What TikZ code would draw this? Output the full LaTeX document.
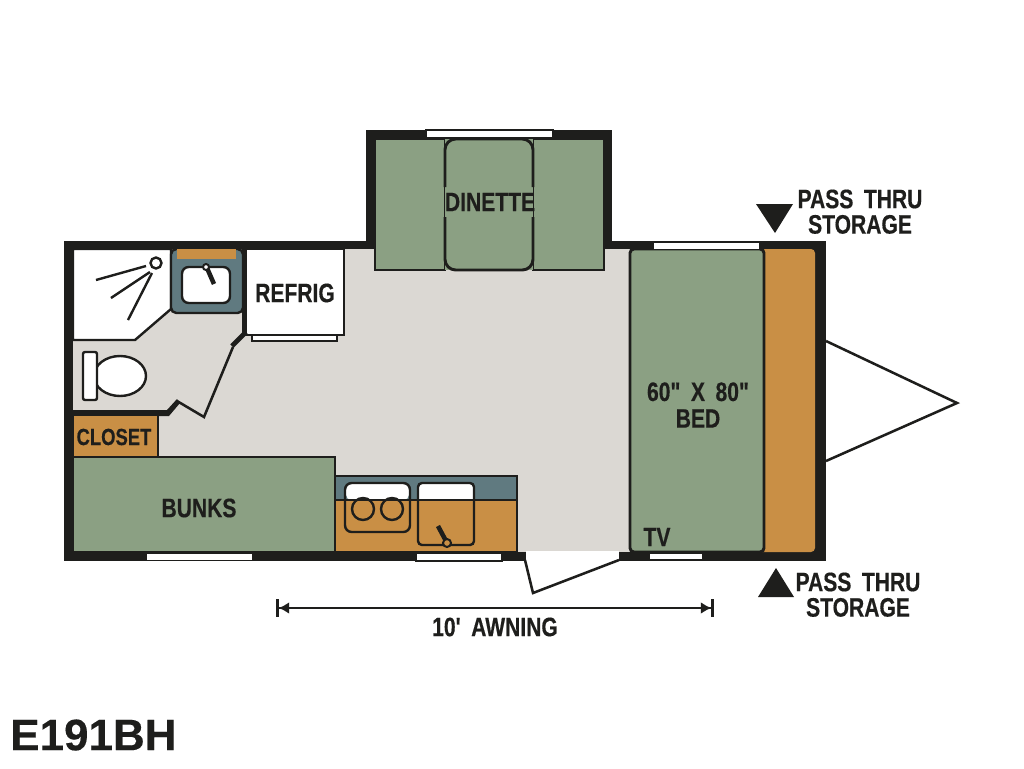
\documentclass[tikz,border=0pt]{standalone}
\usepackage{fontspec}
\newfontfamily\planfont[FakeStretch=0.79,WordSpace=1.8,BoldFeatures={FakeBold=0.4}]{Liberation Sans}
\newfontfamily\titlefont[BoldFeatures={FakeBold=0.3}]{Liberation Sans}
\usetikzlibrary{positioning}
\usetikzlibrary{arrows.meta}
\definecolor{myDark}{RGB}{30,30,28}
\definecolor{myFloor}{RGB}{219,216,211}
\definecolor{myGreen}{RGB}{139,160,131}
\definecolor{myOrange}{RGB}{201,143,69}
\definecolor{mySlate}{RGB}{96,122,128}

\begin{document}
\begin{tikzpicture}[x=0.75pt,y=-0.75pt,line join=miter,
  plan text/.style={inner sep=0pt,text=myDark,font=\planfont\bfseries\fontsize{20}{22}\selectfont},
  small text/.style={inner sep=0pt,text=myDark,font=\planfont\bfseries\fontsize{17.5}{20}\selectfont},
  wall/.style={fill=myDark},
  cushion/.style={fill=myGreen,draw=myDark,line width=2.2pt},
  cabinet/.style={fill=myOrange,draw=myDark,line width=1.8pt},
  fixture/.style={fill=white,draw=myDark,line width=1.8pt},
  thin line/.style={draw=myDark,line width=1.8pt},
  handle/.style={draw=myDark,line width=3.4pt},
  window/.style={fill=white,draw=myDark,line width=1.2pt},
  door line/.style={draw=myDark,line width=1.9pt}]

\useasboundingbox (0,0) rectangle (1024,768);
\fill[white] (0,0) rectangle (1024,768);

% The outer walls and the floor
\fill[wall] (64,241) rectangle (826,561);
\fill[wall] (366,130) rectangle (612,250);
\fill[myFloor] (73,249) rectangle (790,552);
\fill[white] (526,551) rectangle (619,562);

% The dinette
\path[cushion] (375,139) rectangle (445,270);
\path[cushion] (533,139) rectangle (604,270);
\fill[myGreen] (445,139) rectangle (533,270);
\draw[thin line,line width=2.2pt,rounded corners=8pt] (445,187) -- (445,139) -- (533,139) -- (533,187);
\draw[thin line,line width=2.2pt,rounded corners=8pt] (445,217) -- (445,270) -- (533,270) -- (533,217);
\fill[wall] (366,130) rectangle (612,139);
\path[window] (426,130) rectangle (553,138);

% The bed and the storage
\fill[myOrange,rounded corners=3pt] (750,249) rectangle (815,552);
\path[cushion,rounded corners=3pt] (630,249) rectangle (764,552);
\path[window] (653,242) rectangle (760,249.5);
\path[window] (649,553) rectangle (703,560);

% The bath
\path[fixture] (73,249) -- (171,249) -- (171,309) -- (135,340) -- (73,340) -- cycle;
\path[fill=mySlate,draw=myDark,line width=1.8pt,rounded corners=4pt] (171,249) -- (171,313) -- (243,313) -- (243,249) -- cycle;
\fill[wall] (64,241) rectangle (366,249);
\fill[myOrange] (177,249) rectangle (236,259);
\path[fixture,rounded corners=5pt] (182,267) rectangle (230,303);
\draw[handle] (207,268) -- (214,284);
\path[fixture,line width=1.5pt] (206,267) circle (3);
\path[fixture] (156,263) circle (5.5);
\draw[thin line] (146,266) -- (96,280);
\draw[thin line] (150,272) -- (111,298);
\draw[thin line] (152,273) -- (128,320);
\path[fixture] (120,376) ellipse (26 and 20);
\path[fixture,rounded corners=1.5pt] (83,352) rectangle (97,400);

% The refrigerator and the bath door
\fill[wall] (242,249) rectangle (247,333);
\path[fixture,line width=1.2pt] (252,334) rectangle (337,341);
\path[fixture,line width=2pt] (246,249) -- (344,249) -- (344,335) -- (246,335) -- cycle;
\fill[wall] (64,241) rectangle (366,249);
\draw[draw=myDark,line width=3.6pt] (246,332) -- (232,346);
\draw[door line] (233,347) -- (204,417) -- (177,401);
\fill[wall] (73,410) -- (167,410) -- (177,399) -- (180,403) -- (169,416) -- (73,416) -- cycle;

% The closet and the bunks
\path[cabinet] (73,415) rectangle (158,457);
\path[cushion] (73,457) rectangle (335,552);
\fill[wall] (64,415) rectangle (73,556);
\path[window] (146,553) rectangle (253,560.5);

% The galley
\path[fill=mySlate,draw=myDark,line width=2pt] (335,476) rectangle (517,552);
\fill[myOrange] (336,500) rectangle (516,551);
\path[fill=white,rounded corners=4pt] (346,484) -- (346,500) -- (409,500) -- (409,484) -- cycle;
\fill[white] (419,484) rectangle (473,500);
\draw[thin line] (335,500) -- (517,500);
\draw[thin line,rounded corners=5pt] (345,483) rectangle (410,532);
\draw[thin line,rounded corners=3pt] (418,483) rectangle (474,545);
\draw[thin line] (363,509) circle (11);
\draw[thin line] (392,509) circle (11);
\draw[handle] (438,526) -- (446,541);
\path[cabinet,line width=1.5pt] (447,543) circle (4);
\path[window] (416,553) rectangle (502,561);

% The entry door and the hitch
\draw[door line] (525,560) -- (533,593) -- (619,560);
\draw[door line] (826,341) -- (957,403) -- (826,461);

% The storage marks
\fill[wall] (756,204) -- (793,204) -- (775,233) -- cycle;
\fill[wall] (758,597) -- (794,597) -- (776,568) -- cycle;

% The awning
\coordinate (awningL) at (276,608);
\coordinate (awningR) at (714,608);
\draw[door line,{Bar[width=13pt]Latex[length=8pt,width=9pt]}-{Latex[length=8pt,width=9pt]Bar[width=13pt]}] (awningL) -- (awningR);

% The labels
\node[plan text] (Dinette) at (490,202) {DINETTE};
\node[plan text] (Refrig) at (295,293) {REFRIG};
\node[small text] (Closet) at (114,437) {CLOSET};
\node[plan text] (Bunks) at (199,508) {BUNKS};
\node[plan text] (Bed) at (698,405) [align=center] {60" X 80"\\[-2pt]BED};
\node[plan text] (TV) at (657,537) {TV};
\node[plan text] (Awning) at (495,627) {10' AWNING};
\node[plan text] (PassTop) at (860,199) {PASS THRU};
\node[plan text] (StorageTop) [below=4.5pt of PassTop] {STORAGE};
\node[plan text] (PassBottom) at (858,582) {PASS THRU};
\node[plan text] (StorageBottom) [below=4.5pt of PassBottom] {STORAGE};
\node[inner sep=0pt,text=myDark,font=\titlefont\bfseries\fontsize{33}{35}\selectfont,anchor=west] (Model) at (10,735) {E191BH};

\end{tikzpicture}
\end{document}
